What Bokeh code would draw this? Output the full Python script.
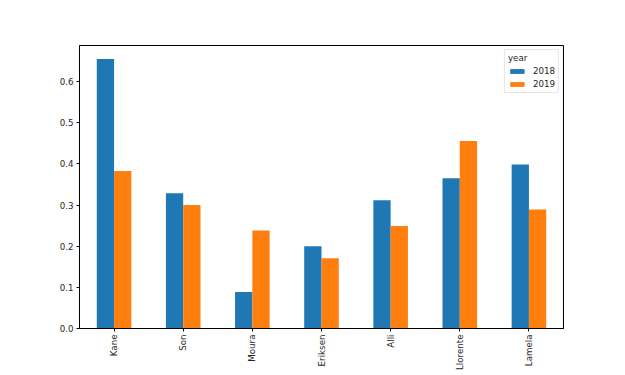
import math
from bokeh.plotting import figure
from bokeh.models import ColumnDataSource, FixedTicker, Range1d, FactorRange, Legend, LegendItem, NumeralTickFormatter
from bokeh.transform import dodge
from bokeh.embed import file_html
from bokeh.resources import INLINE

players = ["Kane", "Son", "Moura", "Eriksen", "Alli", "Llorente", "Lamela"]
y2018 = [0.655, 0.329, 0.089, 0.200, 0.312, 0.365, 0.399]
y2019 = [0.383, 0.300, 0.238, 0.171, 0.249, 0.456, 0.289]
years = ["2018", "2019"]
y_ticks = [0.0, 0.1, 0.2, 0.3, 0.4, 0.5, 0.6]

src = ColumnDataSource(dict(player=players, y2018=y2018, y2019=y2019))

FONT = "DejaVu Sans"
FS = "8.7px"
TXT = "#262626"

p = figure(
    x_range=FactorRange(*players, range_padding=0, factor_padding=0),
    y_range=Range1d(0, 0.688),
    frame_width=484, frame_height=283,
    min_border_left=79, min_border_top=45, min_border_right=54, min_border_bottom=10,
    output_backend="svg", toolbar_location=None,
)

r1 = p.vbar(x=dodge("player", -0.125, range=p.x_range), top="y2018", width=0.25,
            source=src, fill_color="#1f77b4", line_color=None)
r2 = p.vbar(x=dodge("player", 0.125, range=p.x_range), top="y2019", width=0.25,
            source=src, fill_color="#ff7f0e", line_color=None)

p.xgrid.visible = False
p.ygrid.visible = False
p.outline_line_color = "#000000"
p.outline_line_width = 1
p.background_fill_color = "white"
p.border_fill_color = "white"

for ax in (p.xaxis[0], p.yaxis[0]):
    ax.axis_line_color = "#000000"
    ax.major_tick_line_color = "#000000"
    ax.major_tick_out = 3
    ax.major_tick_in = 0
    ax.minor_tick_out = 0
    ax.minor_tick_in = 0
    ax.major_label_text_font = FONT
    ax.major_label_text_font_size = FS
    ax.major_label_text_color = TXT
    ax.major_label_standoff = 3

p.yaxis.ticker = FixedTicker(ticks=y_ticks)
p.yaxis.formatter = NumeralTickFormatter(format="0.0")
p.xaxis.major_label_orientation = math.pi / 2

legend = Legend(
    items=[LegendItem(label=years[0], renderers=[r1]), LegendItem(label=years[1], renderers=[r2])],
    location="top_right", title="year",
    title_text_font=FONT, title_text_font_size=FS, title_text_font_style="normal",
    title_text_color=TXT, title_standoff=3,
    label_text_font=FONT, label_text_font_size=FS, label_text_color=TXT,
    label_height=10, label_standoff=7, glyph_width=18, glyph_height=6,
    spacing=3, padding=3, margin=4,
    border_line_color="#cccccc", border_line_width=1, border_radius=2,
    background_fill_color="white", background_fill_alpha=0.8,
)
p.add_layout(legend)

open("out.html", "w").write(file_html(p, INLINE))
